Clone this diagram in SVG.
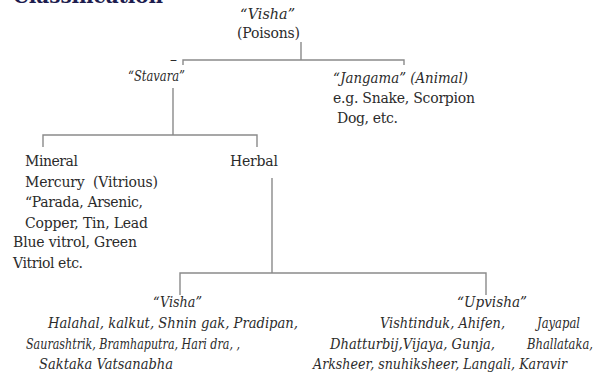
<svg xmlns="http://www.w3.org/2000/svg" width="602" height="377" viewBox="0 0 602 377">
<style>
.t{font-family:"DejaVu Serif","Liberation Serif",serif;font-size:14px;fill:#2b2b2b}
.i{font-style:italic}
.s{font-size:14px}
.ttl{font-family:"DejaVu Serif","Liberation Serif",serif;font-size:20px;font-weight:bold;fill:#1c1c4e}
.c{fill:none;stroke:#8a8a8a;stroke-width:1.4}
</style>
<rect width="602" height="377" fill="#ffffff"/>
<g id="title"><text class="ttl" x="13" y="3" textLength="150">Classification</text></g>
<g id="connectors">
<path class="c" d="M301,42 V60 M183,65 V60 H404 V65"/>
<path class="c" d="M173,88 V135 M43,147 V135 H257 V147"/>
<path class="c" d="M272,178 V273 M180,295 V273 H486 V295"/>
</g>
<g id="root">
<text class="t i" x="240" y="19" textLength="55" lengthAdjust="spacingAndGlyphs">“Visha”</text>
<text class="t" x="237" y="38" textLength="63">(Poisons)</text>
</g>
<g id="stavara">
<text class="t" x="170" y="64" font-size="8">–</text>
<text class="t i" x="128" y="81" textLength="57" lengthAdjust="spacingAndGlyphs">“Stavara”</text>
</g>
<g id="jangama">
<text class="t i" x="333" y="83" textLength="135" lengthAdjust="spacingAndGlyphs">“Jangama” (Animal)</text>
<text class="t" x="333" y="103" textLength="142">e.g. Snake, Scorpion</text>
<text class="t" x="337" y="123" textLength="61">Dog, etc.</text>
</g>
<g id="mineral">
<text class="t" x="25" y="166" textLength="53">Mineral</text>
<text class="t" x="25" y="187" textLength="133" xml:space="preserve">Mercury  (Vitrious)</text>
<text class="t" x="25" y="207" textLength="118">“Parada, Arsenic,</text>
<text class="t" x="25" y="228" textLength="123">Copper, Tin, Lead</text>
<text class="t" x="13" y="247" textLength="124">Blue vitrol, Green</text>
<text class="t" x="13" y="268" textLength="70">Vitriol etc.</text>
</g>
<g id="herbal">
<text class="t" x="230" y="166" textLength="48">Herbal</text>
</g>
<g id="visha">
<text class="t i" x="153" y="307" textLength="49" lengthAdjust="spacingAndGlyphs">“Visha”</text>
<text class="t i s" x="48" y="328" textLength="250" lengthAdjust="spacingAndGlyphs">Halahal, kalkut, Shnin gak, Pradipan,</text>
<text class="t i" x="26" y="349" font-size="13.5" textLength="214" lengthAdjust="spacingAndGlyphs">Saurashtrik, Bramhaputra, Hari dra, ,</text>
<text class="t i s" x="39" y="369" textLength="134" lengthAdjust="spacingAndGlyphs">Saktaka Vatsanabha</text>
</g>
<g id="upvisha">
<text class="t i" x="457" y="307" textLength="70" lengthAdjust="spacingAndGlyphs">“Upvisha”</text>
<text class="t i s" x="380" y="328" textLength="125" lengthAdjust="spacingAndGlyphs">Vishtinduk, Ahifen,</text>
<text class="t i s" x="537" y="328" textLength="43" lengthAdjust="spacingAndGlyphs">Jayapal</text>
<text class="t i s" x="330" y="349" textLength="165" lengthAdjust="spacingAndGlyphs">Dhatturbij,Vijaya, Gunja,</text>
<text class="t i" x="527" y="349" font-size="12.5" textLength="66" lengthAdjust="spacingAndGlyphs">Bhallataka,</text>
<text class="t i s" x="313" y="369" textLength="254" lengthAdjust="spacingAndGlyphs">Arksheer, snuhiksheer, Langali, Karavir</text>
</g>
</svg>
